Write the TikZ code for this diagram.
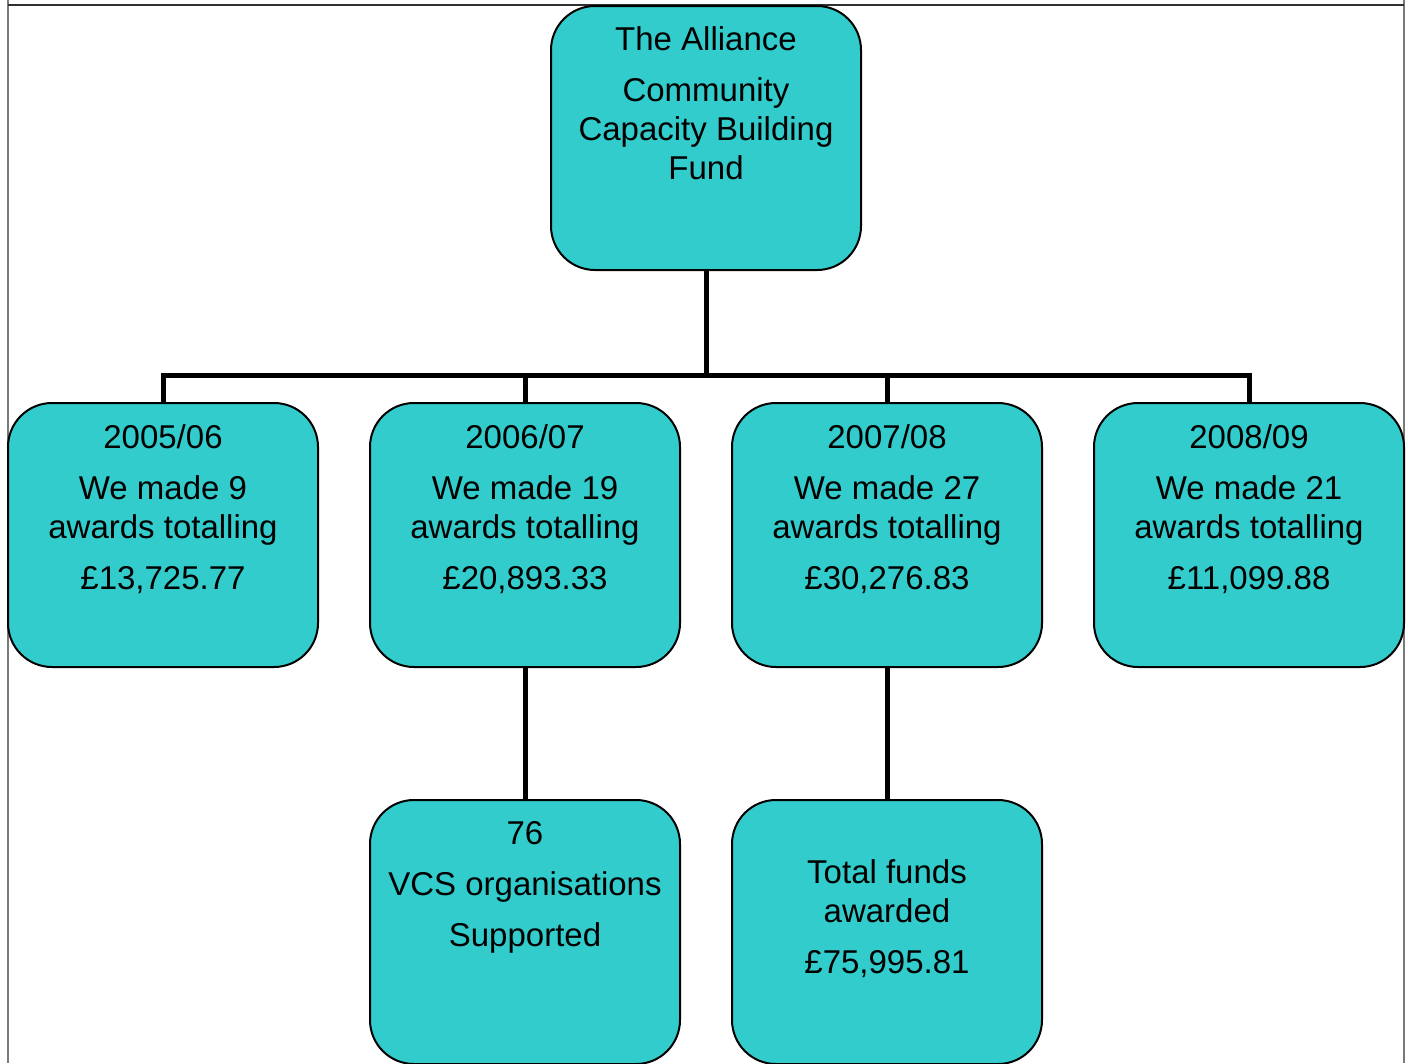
\documentclass[tikz,border=0pt]{standalone}
\usepackage{fontspec}
\setmainfont{Liberation Sans}
\definecolor{boxfill}{HTML}{33CCCC}
\definecolor{framegray}{HTML}{7A7A7A}
\definecolor{framedark}{HTML}{303030}
\begin{document}
\begin{tikzpicture}[x=1pt,y=-1pt,
  box/.style={draw=black,line width=2pt,fill=boxfill,rounded corners=44pt,
    minimum width=310pt,minimum height=264pt,inner sep=0pt,outer sep=0pt},
  txt/.style={anchor=north,align=center,inner sep=0pt,
    font=\fontsize{33}{39}\selectfont},
  conn/.style={draw=black,line width=5pt},
  frameline/.style={line width=2pt}]
\useasboundingbox (0,0) rectangle (1408,1063);
% frame
\draw[frameline,draw=framegray] (8,0) -- (8,1063);
\draw[frameline,draw=framegray] (1404,0) -- (1404,1063);
\draw[frameline,draw=framedark] (8,5) -- (1404,5);
% boxes
\node[box] (top) at (706,138) {};
\node[box] (b1) at (163,535) {};
\node[box] (b2) at (525,535) {};
\node[box] (b3) at (887,535) {};
\node[box] (b4) at (1249,535) {};
\node[box] (c2) at (525,932) {};
\node[box] (c3) at (887,932) {};
% connectors
\coordinate (j) at (706,375);
\draw[conn] (top.south) -- (j);
\draw[conn] (j) -| (b1.north);
\draw[conn] (j) -| (b2.north);
\draw[conn] (j) -| (b3.north);
\draw[conn] (j) -| (b4.north);
\draw[conn] (b2.south) -- (c2.north);
\draw[conn] (b3.south) -- (c3.north);
% texts
\node[txt] (ttop) at (706,26) {The Alliance\\[12pt]Community\\Capacity Building\\Fund};
\node[txt] (t1) at (163,424) {2005/06\\[12pt]We made 9\\awards totalling\\[12pt]£13,725.77};
\node[txt] (t2) at (525,424) {2006/07\\[12pt]We made 19\\awards totalling\\[12pt]£20,893.33};
\node[txt] (t3) at (887,424) {2007/08\\[12pt]We made 27\\awards totalling\\[12pt]£30,276.83};
\node[txt] (t4) at (1249,424) {2008/09\\[12pt]We made 21\\awards totalling\\[12pt]£11,099.88};
\node[txt] (tc2) at (525,821) {76\\[12pt]VCS organisations\\[12pt]Supported};
\node[txt] (tc3) at (887,859) {Total funds\\awarded\\[12pt]£75,995.81};
\end{tikzpicture}
\end{document}
